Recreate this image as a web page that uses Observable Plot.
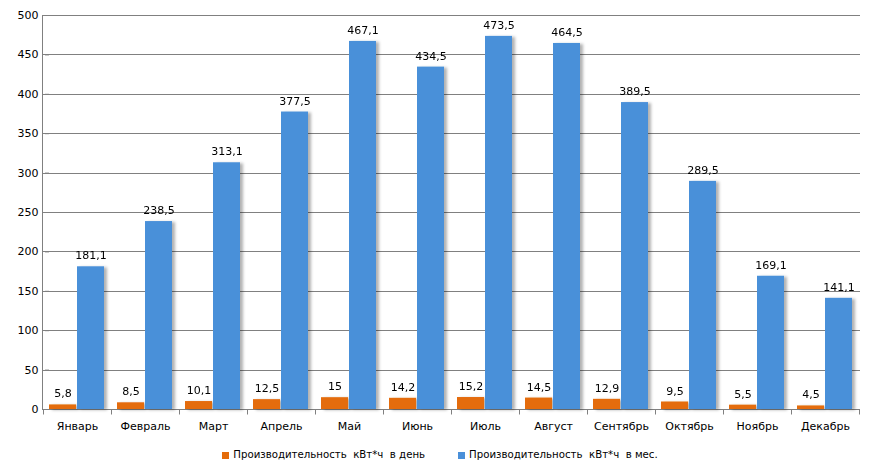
<!DOCTYPE html>
<html>
<head>
<meta charset="utf-8">
<script src="https://cdn.jsdelivr.net/npm/d3@7"></script>
<script src="https://cdn.jsdelivr.net/npm/@observablehq/plot@0.6"></script>
<style>
  body { margin: 0; background: #fff; font-family: "DejaVu Sans", sans-serif; }
  #chart { width: 875px; }
  .legend { display: flex; justify-content: center; gap: 33px; font-size: 10.2px; color: #000; margin-top: 8px; line-height: 14px; margin-left: 5px; }
  .legend span.item { display: flex; align-items: center; white-space: pre; }
  .legend i { display: inline-block; width: 7px; height: 7px; margin-right: 4px; }
</style>
</head>
<body>
<div id="chart"></div>
<script>
const months = ["Январь","Февраль","Март","Апрель","Май","Июнь","Июль","Август","Сентябрь","Октябрь","Ноябрь","Декабрь"];
const seriesNames = ["Производительность  кВт*ч  в день", "Производительность  кВт*ч  в мес."];
const dailyValues = [5.8, 8.5, 10.1, 12.5, 15, 14.2, 15.2, 14.5, 12.9, 9.5, 5.5, 4.5];
const monthlyValues = [181.1, 238.5, 313.1, 377.5, 467.1, 434.5, 473.5, 464.5, 389.5, 289.5, 169.1, 141.1];
const yTicks = [0, 50, 100, 150, 200, 250, 300, 350, 400, 450, 500];
const colors = ["#E46C0A", "#4A90D9"];

const table = [];
months.forEach((m, i) => {
  table.push({month: m, series: seriesNames[0], value: dailyValues[i]});
  table.push({month: m, series: seriesNames[1], value: monthlyValues[i]});
});
const fmt = v => String(v).replace(".", ",");

const plot = Plot.plot({
  width: 875,
  height: 440,
  marginLeft: 42,
  marginRight: 15,
  marginTop: 15,
  marginBottom: 31,
  style: {fontFamily: "DejaVu Sans", fontSize: "11px", color: "#000", background: "#fff"},
  facet: {data: table, x: "month"},
  fx: {domain: months, paddingInner: 0.18, paddingOuter: 0.09, label: null, tickSize: 0, tickPadding: 13},
  x: {domain: seriesNames, axis: null, paddingInner: 0.03, paddingOuter: 0},
  y: {domain: [0, 500], ticks: yTicks, tickSize: 4, tickPadding: 7, label: null, tickFormat: d => String(d)},
  color: {domain: seriesNames, range: colors},
  marks: [
    Plot.barY(table, {x: "series", y: "value", fill: "series"}),
    Plot.text(table, {x: "series", y: "value", text: d => fmt(d.value), dy: -11, fill: "#000"})
  ]
});

document.getElementById("chart").appendChild(plot);

// Full-width grid, axis lines and category boundary ticks from Plot's own scales
const svg = d3.select(plot);
const y = plot.scale("y");
const fx = plot.scale("fx");
const x0 = fx.range[0], x1 = fx.range[1];
const gap = fx.step - fx.bandwidth;
const grid = svg.insert("g", ":first-child").attr("stroke", "#808080").attr("stroke-width", 1);
yTicks.forEach(t => {
  const yy = Math.round(y.apply(t)) + 0.5;
  grid.append("line").attr("x1", x0).attr("x2", x1).attr("y1", yy).attr("y2", yy);
});
const ax = svg.append("g").attr("stroke", "#808080").attr("stroke-width", 1);
ax.append("line").attr("x1", x0 + 0.5).attr("x2", x0 + 0.5).attr("y1", y.apply(500)).attr("y2", y.apply(0));
const y0 = Math.round(y.apply(0)) + 0.5;
months.forEach(m => {
  const bx = Math.round(fx.apply(m) - gap / 2) + 0.5;
  ax.append("line").attr("x1", bx).attr("x2", bx).attr("y1", y0).attr("y2", y0 + 5);
});
ax.append("line").attr("x1", x1 - 0.5).attr("x2", x1 - 0.5).attr("y1", y0).attr("y2", y0 + 5);
svg.selectAll("g[aria-label='y-axis'] line, g[aria-label='y-axis tick'] line, g[aria-label='y-axis tick'] path, g[aria-label='y-axis'] path").attr("stroke", "#808080");

// soft drop shadow on bars
const defs = svg.append("defs");
const f = defs.append("filter").attr("id", "sh").attr("x", "-20%").attr("y", "-5%").attr("width", "150%").attr("height", "110%");
f.append("feDropShadow").attr("dx", 3).attr("dy", 1).attr("stdDeviation", 1.5).attr("flood-color", "#000").attr("flood-opacity", 0.3);
svg.selectAll("g[aria-label='bar']").attr("filter", "url(#sh)");

// legend
const lg = d3.select("body").append("div").attr("class", "legend");
seriesNames.forEach((s, i) => {
  const it = lg.append("span").attr("class", "item");
  it.append("i").style("background", colors[i]);
  it.append("span").text(s);
});
</script>
</body>
</html>
